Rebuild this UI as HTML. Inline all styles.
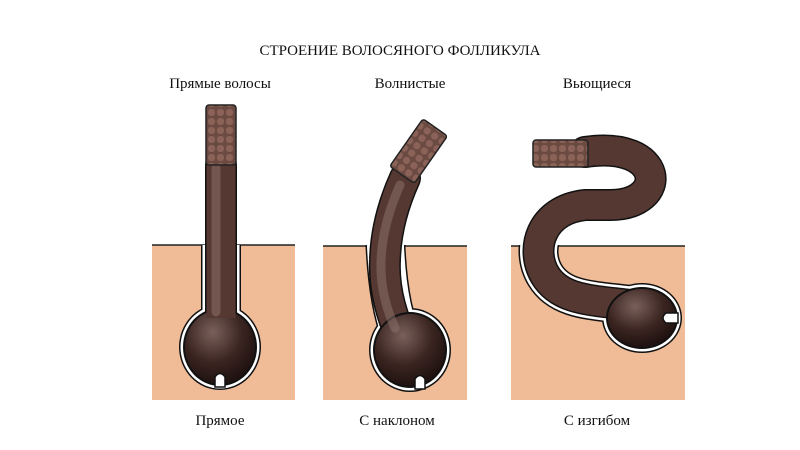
<!DOCTYPE html>
<html><head><meta charset="utf-8"><style>
html,body{margin:0;padding:0;background:#fff;}
svg{display:block;}
text{font-family:"Liberation Serif","DejaVu Serif",serif;fill:#111;}
</style></head><body>
<svg width="800" height="450" viewBox="0 0 800 450" xmlns="http://www.w3.org/2000/svg">
<defs>
<radialGradient id="bg" cx="0.4" cy="0.3" r="0.7">
<stop offset="0" stop-color="#7a605b"/><stop offset="0.6" stop-color="#3a2420"/><stop offset="1" stop-color="#1f1210"/>
</radialGradient>
<pattern id="cut" width="9" height="9" patternUnits="userSpaceOnUse">
<rect width="9" height="9" fill="#6b4a42"/><rect x="1" y="1" width="7" height="7" rx="3" fill="#8a6258"/>
</pattern>
<clipPath id="below"><rect x="0" y="245" width="800" height="205"/></clipPath>
</defs>

<text x="400" y="55" font-size="15" text-anchor="middle">СТРОЕНИЕ ВОЛОСЯНОГО ФОЛЛИКУЛА</text>
<text x="220" y="88" font-size="15" text-anchor="middle">Прямые волосы</text>
<text x="410" y="88" font-size="15" text-anchor="middle">Волнистые</text>
<text x="597" y="88" font-size="15" text-anchor="middle">Вьющиеся</text>
<text x="220" y="425" font-size="15" text-anchor="middle">Прямое</text>
<text x="397" y="425" font-size="15" text-anchor="middle">С наклоном</text>
<text x="597" y="425" font-size="15" text-anchor="middle">С изгибом</text>

<rect x="152" y="245" width="143" height="155" fill="#efbc97"/>
<rect x="323" y="246" width="144" height="154" fill="#efbc97"/>
<rect x="511" y="246" width="174" height="154" fill="#efbc97"/>
<g stroke="#222" stroke-width="1.5">
<line x1="152" y1="245" x2="295" y2="245"/>
<line x1="323" y1="246" x2="467" y2="246"/>
<line x1="511" y1="246" x2="685" y2="246"/>
</g>

<g clip-path="url(#below)">
<g fill="none" stroke-linecap="round">
<path d="M221,200 L221,330" stroke="#111" stroke-width="40"/>
<path d="M385,200 Q383,300 405,345" stroke="#111" stroke-width="40"/>
<path d="M585,205 C540,210 530,250 545,275 C560,300 590,300 630,305" stroke="#111" stroke-width="40"/>
</g>
<ellipse cx="220" cy="347" rx="41" ry="43" fill="#111"/>
<ellipse cx="410" cy="350" rx="41" ry="42" fill="#111"/>
<ellipse cx="642" cy="318" rx="40" ry="35" fill="#111"/>
<g fill="none" stroke-linecap="round">
<path d="M221,200 L221,330" stroke="#fff" stroke-width="37"/>
<path d="M385,200 Q383,300 405,345" stroke="#fff" stroke-width="37"/>
<path d="M585,205 C540,210 530,250 545,275 C560,300 590,300 630,305" stroke="#fff" stroke-width="37"/>
</g>
<ellipse cx="220" cy="347" rx="39.5" ry="41.5" fill="#fff"/>
<ellipse cx="410" cy="350" rx="39.5" ry="40.5" fill="#fff"/>
<ellipse cx="642" cy="318" rx="38.5" ry="33.5" fill="#fff"/>
</g>

<g fill="none" stroke-linecap="round">
<path d="M221,165 L221,330" stroke="#111" stroke-width="32"/>
<path d="M221,165 L221,330" stroke="#553832" stroke-width="29"/>
<path d="M405,178 Q386,220 385,260 Q383,300 405,345" stroke="#111" stroke-width="32"/>
<path d="M405,178 Q386,220 385,260 Q383,300 405,345" stroke="#553832" stroke-width="29"/>
<path d="M585,152 C665,140 670,205 610,205 L585,205 C540,210 530,250 545,275 C560,300 590,300 630,305" stroke="#111" stroke-width="32"/>
<path d="M585,152 C665,140 670,205 610,205 L585,205 C540,210 530,250 545,275 C560,300 590,300 630,305" stroke="#553832" stroke-width="29"/>
</g>
<ellipse cx="220" cy="347" rx="37" ry="39" fill="#111"/>
<ellipse cx="220" cy="347" rx="35" ry="37" fill="url(#bg)"/>
<ellipse cx="410" cy="350" rx="37" ry="38" fill="#111"/>
<ellipse cx="410" cy="350" rx="35" ry="36" fill="url(#bg)"/>
<ellipse cx="642" cy="318" rx="36" ry="31" fill="#111"/>
<ellipse cx="642" cy="318" rx="34" ry="29" fill="url(#bg)"/>
<path d="M221,195 L221,318" stroke="#553832" stroke-width="29" fill="none"/>
<path d="M216,168 L216,312" stroke="#8f746e" stroke-width="9" opacity="0.5" fill="none" stroke-linecap="round"/>
<path d="M400,185 Q382,225 381,262 Q380,295 395,328" stroke="#8f746e" stroke-width="9" opacity="0.5" fill="none" stroke-linecap="round"/>

<path d="M215,387 L215,377 Q220,370 225,377 L225,387 Z" fill="#fff" stroke="#111" stroke-width="1.5"/>
<path d="M415,389 L415,379 Q420,372 425,379 L425,389 Z" fill="#fff" stroke="#111" stroke-width="1.5"/>
<path d="M678,313 L666,313 Q660,318 666,323 L678,323 Z" fill="#fff" stroke="#111" stroke-width="1.5"/>

<rect x="206" y="105" width="30" height="60" rx="3" fill="url(#cut)" stroke="#222" stroke-width="1.5"/>
<g transform="translate(418,152) rotate(35)">
<rect x="-15" y="-30" width="30" height="58" rx="3" fill="url(#cut)" stroke="#222" stroke-width="1.5"/>
</g>
<rect x="533" y="140" width="55" height="27" rx="3" fill="url(#cut)" stroke="#222" stroke-width="1.5"/>
</svg>
</body></html>
